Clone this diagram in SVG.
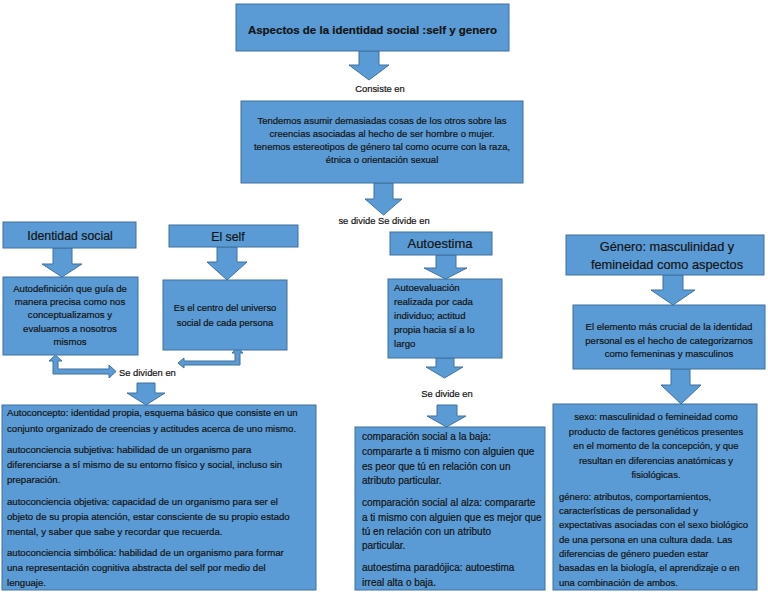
<svg xmlns="http://www.w3.org/2000/svg" width="768" height="594" viewBox="0 0 768 594">
<style>
.box{fill:#5B9BD5;stroke:#41719C;stroke-width:1}
.arr{fill:#5B9BD5;stroke:#41719C;stroke-width:1}
text{font-family:"Liberation Sans",Arial,sans-serif;fill:#141414;stroke:#141414;stroke-width:0.2}
.b{font-size:9.6px}
.m{font-size:10px}
.c{text-anchor:middle}
.h{font-size:12.3px}
.lbl{font-size:9.4px}
</style>
<rect width="768" height="594" fill="#ffffff"/>

<g id="connectors">
<polygon class="arr" points="359,51 379,51 379,65 389,65 369,80 349,65 359,65"/>
<polygon class="arr" points="374,183 393,183 393,199 402,199 383.5,215 365,199 374,199"/>
<polygon class="arr" points="53,248 72,248 72,264 82,264 62,277 42,264 53,264"/>
<polygon class="arr" points="217,247 237,247 237,262 247,262 227,280 207,262 217,262"/>
<polygon class="arr" points="436,255 456,255 456,268 467,268 445.5,279 424,268 436,268"/>
<polygon class="arr" points="436,358 454,358 454,367 463,367 444.5,378 426,367 436,367"/>
<polygon class="arr" points="437,405 457,405 457,416 466,416 446.5,427 427,416 437,416"/>
<polygon class="arr" points="137,383 155,383 155,393 165,393 146,405 127,393 137,393"/>
<polygon class="arr" points="663,275 683,275 683,290 695,290 673,305 651,290 663,290"/>
<polygon class="arr" points="671,369 690,369 690,385 701,385 681,404 661,385 671,385"/>
<polygon class="arr" points="55.5,355 62,361 58,361 58,369 109,369 109,365 116,371.5 109,378 109,374 53,374 53,361 49,361"/>
<polygon class="arr" points="178,363 184,358 184,361 235,361 235,353 232,353 237.5,347 243,353 240,353 240,365 184,365 184,368"/>
<text class="lbl c" x="380" y="92">Consiste en</text>
<text class="lbl c" x="384" y="224">se divide Se divide en</text>
<text class="lbl" x="119" y="376">Se dividen en</text>
<text class="lbl c" x="447" y="397">Se divide en</text>
</g>

<g id="title">
<rect class="box" x="236" y="4" width="273" height="47"/>
<text x="372.5" y="34" class="c" style="font-size:11.5px;font-weight:bold">Aspectos de la identidad social :self y genero</text>
</g>

<g id="central">
<rect class="box" x="241" y="101" width="282" height="82"/>
<text class="b c" x="382" y="124" style="font-size:9.5px">Tendemos asumir demasiadas cosas de los otros sobre las</text>
<text class="b c" x="382" y="137" style="font-size:9.5px">creencias asociadas al hecho de ser hombre o mujer.</text>
<text class="b c" x="382" y="150" style="font-size:9.5px">tenemos estereotipos de género tal como ocurre con la raza,</text>
<text class="b c" x="382" y="163" style="font-size:9.5px">étnica o orientación sexual</text>
</g>

<g id="identidad-social">
<rect class="box" x="3" y="222" width="133" height="26"/>
<text class="h c" x="70" y="240">Identidad social</text>
</g>

<g id="autodefinicion">
<rect class="box" x="3" y="277" width="135" height="78"/>
<text class="b c" x="70" y="292">Autodefinición que guía de</text>
<text class="b c" x="70" y="305">manera precisa como nos</text>
<text class="b c" x="70" y="318">conceptualizamos y</text>
<text class="b c" x="70" y="332">evaluamos a nosotros</text>
<text class="b c" x="70" y="345">mismos</text>
</g>

<g id="el-self">
<rect class="box" x="169" y="225" width="129" height="22"/>
<text class="h c" x="228" y="241">El self</text>
</g>

<g id="centro">
<rect class="box" x="163" y="280" width="124" height="70"/>
<text class="b c" x="225" y="311" style="font-size:9.4px">Es el centro del universo</text>
<text class="b c" x="225" y="326" style="font-size:9.4px">social de cada persona</text>
</g>

<g id="autoestima">
<rect class="box" x="390" y="232" width="102" height="23"/>
<text class="c" x="440" y="248" style="font-size:13px">Autoestima</text>
</g>

<g id="autoevaluacion">
<rect class="box" x="388" y="279" width="114" height="79"/>
<text class="b" x="394" y="291">Autoevaluación</text>
<text class="b" x="394" y="305">realizada por cada</text>
<text class="b" x="394" y="319">individuo; actitud</text>
<text class="b" x="394" y="333">propia hacia sí a lo</text>
<text class="b" x="394" y="347">largo</text>
</g>

<g id="genero">
<rect class="box" x="566" y="235" width="198" height="40"/>
<text class="c" x="667" y="251" style="font-size:12.8px">Género: masculinidad y</text>
<text class="c" x="667" y="269" style="font-size:12.8px">femineidad como aspectos</text>
</g>

<g id="elemento">
<rect class="box" x="573" y="305" width="192" height="64"/>
<text class="b c" x="669" y="330">El elemento más crucial de la identidad</text>
<text class="b c" x="669" y="344">personal es el hecho de categorizarnos</text>
<text class="b c" x="669" y="357">como femeninas  y masculinos</text>
</g>

<g id="autoconcepto">
<rect class="box" x="2" y="405" width="314" height="185"/>
<text class="b" x="7" y="416">Autoconcepto: identidad propia, esquema básico que consiste en un</text>
<text class="b" x="7" y="432">conjunto organizado de creencias y actitudes acerca de uno mismo.</text>
<text class="b" x="7" y="453">autoconciencia subjetiva: habilidad de un organismo para</text>
<text class="b" x="7" y="468">diferenciarse a sí mismo de su entorno físico y social, incluso sin</text>
<text class="b" x="7" y="483">preparación.</text>
<text class="b" x="7" y="505">autoconciencia objetiva: capacidad de un organismo para ser el</text>
<text class="b" x="7" y="520">objeto de su propia atención, estar consciente de su propio estado</text>
<text class="b" x="7" y="535">mental, y saber que sabe y recordar que recuerda.</text>
<text class="b" x="7" y="556">autoconciencia simbólica: habilidad de un organismo para formar</text>
<text class="b" x="7" y="571">una representación cognitiva abstracta del self por medio del</text>
<text class="b" x="7" y="586">lenguaje.</text>
</g>

<g id="comparacion">
<rect class="box" x="355" y="427" width="190" height="163"/>
<text class="m" x="362" y="440">comparación social a la baja:</text>
<text class="m" x="362" y="455">compararte a ti mismo con alguien que</text>
<text class="m" x="362" y="470">es peor que tú en relación con un</text>
<text class="m" x="362" y="484">atributo particular.</text>
<text class="m" x="362" y="506">comparación social al alza: compararte</text>
<text class="m" x="362" y="521">a ti mismo con alguien que es mejor que</text>
<text class="m" x="362" y="535">tú en relación con un atributo</text>
<text class="m" x="362" y="549">particular.</text>
<text class="m" x="362" y="571">autoestima paradójica: autoestima</text>
<text class="m" x="362" y="586">irreal alta o baja.</text>
</g>

<g id="sexo-genero">
<rect class="box" x="553" y="404" width="204" height="186"/>
<text class="b c" x="656" y="420" style="font-size:9.5px">sexo: masculinidad o femineidad como</text>
<text class="b c" x="656" y="435" style="font-size:9.5px">producto de factores genéticos presentes</text>
<text class="b c" x="656" y="449" style="font-size:9.5px">en el momento de la concepción, y que</text>
<text class="b c" x="656" y="464" style="font-size:9.5px">resultan en diferencias anatómicas y</text>
<text class="b c" x="656" y="478" style="font-size:9.5px">fisiológicas.</text>
<text class="b" x="559" y="500" style="font-size:9.5px">género: atributos, comportamientos,</text>
<text class="b" x="559" y="514" style="font-size:9.5px">características de personalidad y</text>
<text class="b" x="559" y="528" style="font-size:9.5px">expectativas asociadas con el sexo biológico</text>
<text class="b" x="559" y="543" style="font-size:9.5px">de una persona en una cultura dada. Las</text>
<text class="b" x="559" y="557" style="font-size:9.5px">diferencias de género pueden estar</text>
<text class="b" x="559" y="571" style="font-size:9.5px">basadas en la biología, el aprendizaje o en</text>
<text class="b" x="559" y="586" style="font-size:9.5px">una combinación de ambos.</text>
</g>
</svg>
